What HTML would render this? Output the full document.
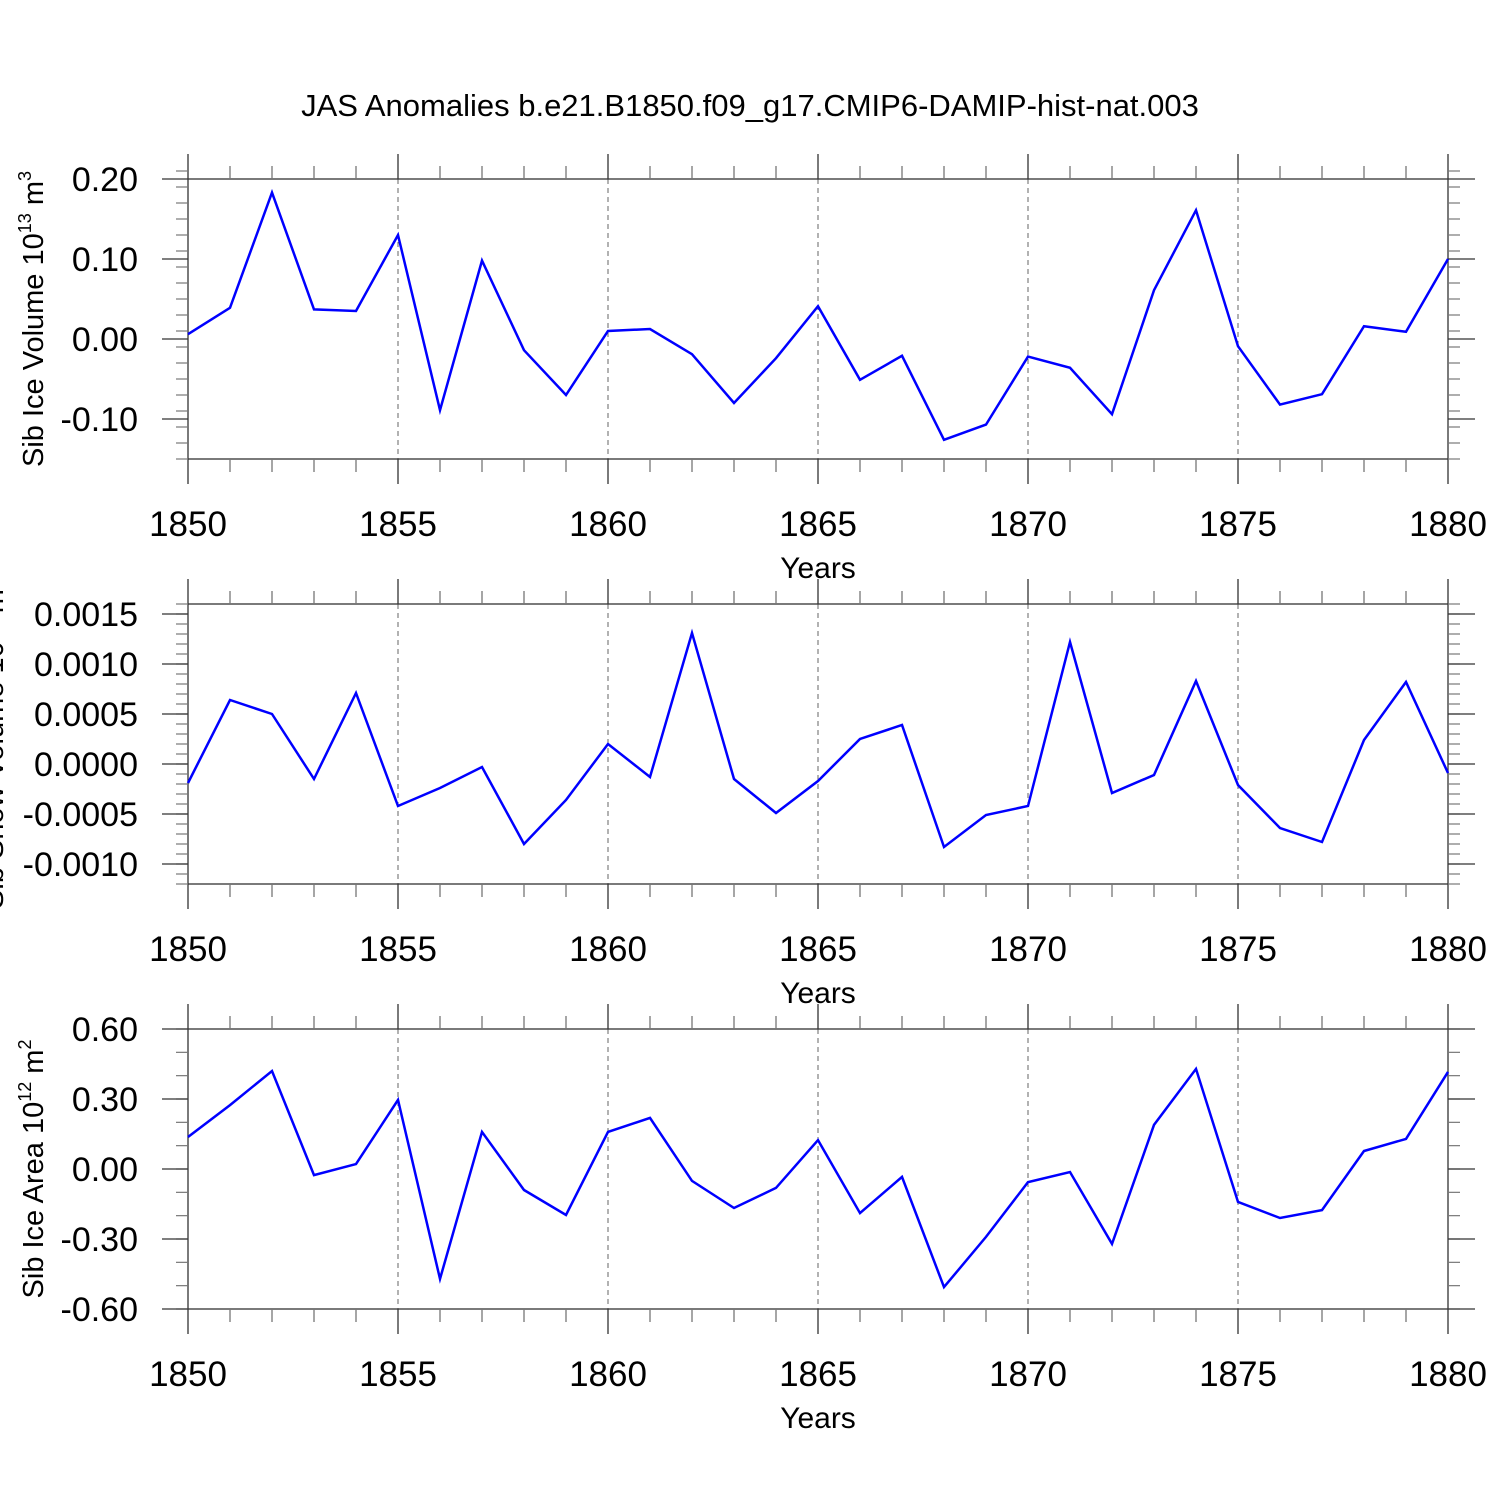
<!DOCTYPE html>
<html><head><meta charset="utf-8"><style>
html,body{margin:0;padding:0;background:#fff;}
svg{display:block;font-family:"Liberation Sans",sans-serif;}
</style></head><body>
<svg id="chart" width="1500" height="1500" viewBox="0 0 1500 1500" xmlns="http://www.w3.org/2000/svg">
<rect width="1500" height="1500" fill="#fff"/>
<text x="750" y="116" font-size="31" text-anchor="middle">JAS Anomalies b.e21.B1850.f09_g17.CMIP6-DAMIP-hist-nat.003</text>
</svg>
<script>
const years = [1850,1851,1852,1853,1854,1855,1856,1857,1858,1859,1860,1861,1862,1863,1864,1865,1866,1867,1868,1869,1870,1871,1872,1873,1874,1875,1876,1877,1878,1879,1880];
const iceVolume = [0.006,0.039,0.183,0.037,0.035,0.13,-0.089,0.098,-0.014,-0.07,0.01,0.0125,-0.019,-0.08,-0.024,0.041,-0.051,-0.021,-0.126,-0.107,-0.022,-0.036,-0.094,0.061,0.161,-0.009,-0.082,-0.069,0.016,0.009,0.1];
const snowVolume = [-0.00019,0.00064,0.0005,-0.00015,0.00071,-0.00042,-0.00024,-0.00003,-0.0008,-0.00036,0.0002,-0.00013,0.00131,-0.00015,-0.00049,-0.00017,0.00025,0.00039,-0.00083,-0.00051,-0.00042,0.00122,-0.00029,-0.00011,0.00083,-0.00021,-0.00064,-0.00078,0.00024,0.00082,-0.00009];
const iceArea = [0.137,0.274,0.42,-0.026,0.021,0.296,-0.471,0.159,-0.09,-0.197,0.159,0.219,-0.051,-0.167,-0.081,0.124,-0.189,-0.034,-0.506,-0.291,-0.056,-0.013,-0.321,0.189,0.429,-0.141,-0.21,-0.176,0.077,0.129,0.416];
const ticks1 = [0.2,0.1,0,-0.1];
const tickLabels1 = ["0.20","0.10","0.00","-0.10"];
const ticks2 = [0.0015,0.001,0.0005,0,-0.0005,-0.001];
const tickLabels2 = ["0.0015","0.0010","0.0005","0.0000","-0.0005","-0.0010"];
const ticks3 = [0.6,0.3,0,-0.3,-0.6];
const tickLabels3 = ["0.60","0.30","0.00","-0.30","-0.60"];
const xTicks = [1850,1855,1860,1865,1870,1875,1880];

const svg = document.getElementById('chart');
const NS = 'http://www.w3.org/2000/svg';
function mk(tag, attrs, parent){const e=document.createElementNS(NS,tag);for(const k in attrs)e.setAttribute(k,attrs[k]);(parent||svg).appendChild(e);return e;}

const X0=188, X1=1448;
function xs(yr){return X0+(yr-1850)*(X1-X0)/30;}

function panel(name, top, ymin, ymax, minorStep, ticks, labels, data, titleHTML, titleX){
  const bot=top+280;
  const ys=v=>bot-(v-ymin)*280/(ymax-ymin);
  const g=mk('g',{});
  
  
  for(const t of xTicks){ if(t===1850||t===1880) continue;
    const l=mk('line',{x1:xs(t),x2:xs(t),y1:top,y2:bot,stroke:'#666','stroke-width':1,'stroke-dasharray':'5,4'},g);
    
    
  }
  const fr=mk('rect',{x:X0,y:top,width:X1-X0,height:280,fill:'none',stroke:'#333','stroke-width':1.3},g);
  
  
  for(let yr=1850; yr<=1880; yr++){
    const maj=(yr%5===0); const len=maj?25:13;
    mk('line',{x1:xs(yr),x2:xs(yr),y1:top,y2:top-len,stroke:maj?'#333':'#777','stroke-width':1.3},g);
    mk('line',{x1:xs(yr),x2:xs(yr),y1:bot,y2:bot+len,stroke:maj?'#333':'#777','stroke-width':1.3},g);
  }
  const n=Math.round((ymax-ymin)/minorStep);
  for(let i=0;i<=n;i++){ const y=ys(ymin+i*minorStep);
    mk('line',{x1:X0-12,x2:X0,y1:y,y2:y,stroke:'#777','stroke-width':1.2},g);
    mk('line',{x1:X1,x2:X1+12,y1:y,y2:y,stroke:'#777','stroke-width':1.2},g);
  }
  ticks.forEach((t,i)=>{ const y=ys(t);
    mk('line',{x1:X0-26,x2:X0,y1:y,y2:y,stroke:'#333','stroke-width':1.3},g);
    mk('line',{x1:X1,x2:X1+27,y1:y,y2:y,stroke:'#333','stroke-width':1.3},g);
    const tx=mk('text',{x:138,y:y+12,'font-size':34,'text-anchor':'end'},g);
    tx.textContent=labels[i];
    
    
  });
  xTicks.forEach(t=>{
    const tx=mk('text',{x:xs(t),y:bot+77,'font-size':35,'text-anchor':'middle'},g);
    tx.textContent=String(t);
    
    
  });
  const xt=mk('text',{x:818,y:bot+119,'font-size':30,'text-anchor':'middle'},g);
  xt.textContent='Years';
  
  
  const yt=mk('text',{x:0,y:0,'font-size':29,'text-anchor':'middle',transform:`translate(${titleX},${top+140}) rotate(-90)`},g);
  yt.innerHTML=titleHTML;
  
  
  const pts=data.map((v,i)=>xs(years[i]).toFixed(1)+','+ys(v).toFixed(1)).join(' ');
  const pl=mk('polyline',{points:pts,fill:'none',stroke:'#0000ff','stroke-width':2.5,'stroke-linejoin':'miter'},g);
  
  
}
panel('ice-volume',179,-0.15,0.2,0.02,ticks1,tickLabels1,iceVolume,
 'Sib Ice Volume 10<tspan font-size="18" dy="-12">13</tspan><tspan dy="12"> m</tspan><tspan font-size="18" dy="-12">3</tspan>',43);
panel('snow-volume',604,-0.0012,0.0016,0.0001,ticks2,tickLabels2,snowVolume,
 'Sib Snow Volume 10<tspan font-size="18" dy="-12">13</tspan><tspan dy="12"> m</tspan><tspan font-size="18" dy="-12">3</tspan>',3);
panel('ice-area',1029,-0.6,0.6,0.1,ticks3,tickLabels3,iceArea,
 'Sib Ice Area 10<tspan font-size="18" dy="-12">12</tspan><tspan dy="12"> m</tspan><tspan font-size="18" dy="-12">2</tspan>',43);
</script>
</body></html>
